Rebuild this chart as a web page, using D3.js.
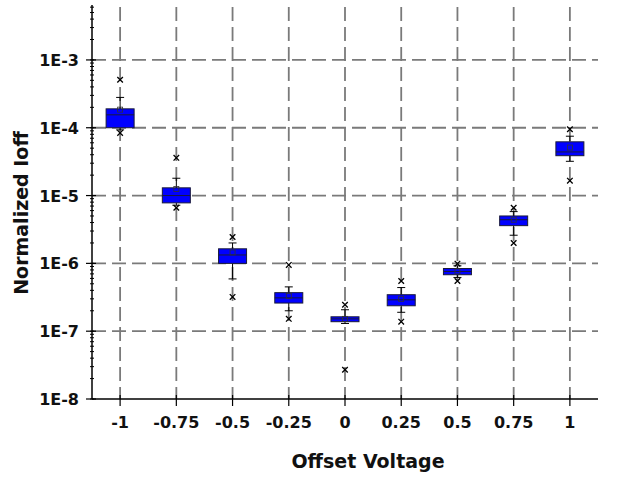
<!DOCTYPE html>
<html>
<head>
<meta charset="utf-8">
<script src="https://cdn.jsdelivr.net/npm/d3@7"></script>
<style>
body { margin: 0; background: #fff; }
text { font-family: "DejaVu Sans", Verdana, sans-serif; font-weight: bold; fill: #111; }
</style>
</head>
<body>
<svg id="chart" width="631" height="477"></svg>
<script>
// data
var offsets   = [-1, -0.75, -0.5, -0.25, 0, 0.25, 0.5, 0.75, 1];
var q1        = [1.0e-4, 7.8e-6, 1.0e-6, 2.6e-7, 1.38e-7, 2.37e-7, 6.8e-7, 3.6e-6, 3.87e-5];
var medians   = [1.55e-4, 1.0e-5, 1.33e-6, 3.1e-7, 1.52e-7, 2.9e-7, 7.6e-7, 4.4e-6, 4.4e-5];
var q3        = [1.9e-4, 1.3e-5, 1.64e-6, 3.7e-7, 1.63e-7, 3.45e-7, 8.4e-7, 5.0e-6, 6.2e-5];
var means     = [1.85e-4, 1.25e-5, 1.45e-6, 3.3e-7, 1.52e-7, 3.0e-7, 7.6e-7, 4.4e-6, 5.1e-5];
var whiskLow  = [9.3e-5, 7.2e-6, 5.9e-7, 2.0e-7, 1.3e-7, 1.9e-7, 6.2e-7, 2.6e-6, 3.2e-5];
var whiskHigh = [2.8e-4, 1.8e-5, 2.0e-6, 4.5e-7, 2.07e-7, 4.4e-7, 9.2e-7, 5.8e-6, 7.5e-5];
var minVals   = [8.4e-5, 6.6e-6, 3.2e-7, 1.52e-7, 2.7e-8, 1.38e-7, 5.5e-7, 2.0e-6, 1.66e-5];
var maxVals   = [5.1e-4, 3.6e-5, 2.45e-6, 9.5e-7, 2.45e-7, 5.5e-7, 9.9e-7, 6.6e-6, 9.5e-5];
var yTicks    = [1e-8, 1e-7, 1e-6, 1e-5, 1e-4, 1e-3];
var yTickLabels = ["1E-8", "1E-7", "1E-6", "1E-5", "1E-4", "1E-3"];

var svg = d3.select("#chart");
var mLeft = 92, mRight = 598, mTop = 5, mBottom = 399;

var x = d3.scaleLinear().domain([-1.125, 1.125]).range([mLeft, mRight]);
var y = d3.scaleLog().domain([1e-8, Math.pow(10, -2.19)]).range([mBottom, mTop]);

var gridColor = "#7a7a7a";
// horizontal dashed grid
svg.selectAll(".hgrid").data(yTicks.slice(1)).enter().append("line")
  .attr("x1", mLeft).attr("x2", mRight)
  .attr("y1", function(d){ return y(d) }).attr("y2", function(d){ return y(d) })
  .attr("stroke", gridColor).attr("stroke-width", 1.8).attr("stroke-dasharray", "14,6");
// vertical dashed grid
svg.selectAll(".vgrid").data(offsets).enter().append("line")
  .attr("x1", function(d){ return x(d) }).attr("x2", function(d){ return x(d) })
  .attr("y1", mTop + 2).attr("y2", mBottom)
  .attr("stroke", gridColor).attr("stroke-width", 1.8).attr("stroke-dasharray", "14,6");

// minor log ticks on y
var minor = y.ticks(60);
svg.selectAll(".minor").data(minor).enter().append("line")
  .attr("x1", mLeft - 2).attr("x2", mLeft + 2)
  .attr("y1", function(d){ return y(d) }).attr("y2", function(d){ return y(d) })
  .attr("stroke", "#000").attr("stroke-width", 1);
svg.selectAll(".major").data(yTicks).enter().append("line")
  .attr("x1", mLeft - 6).attr("x2", mLeft + 4)
  .attr("y1", function(d){ return y(d) }).attr("y2", function(d){ return y(d) })
  .attr("stroke", "#000").attr("stroke-width", 1.2);
svg.selectAll(".ylab").data(yTicks).enter().append("text")
  .text(function(d,i){ return yTickLabels[i] })
  .attr("x", mLeft - 13).attr("y", function(d){ return y(d) + 6 })
  .attr("text-anchor", "end").attr("font-size", 16);

// x ticks
svg.selectAll(".xtick").data(offsets).enter().append("line")
  .attr("x1", function(d){ return x(d) }).attr("x2", function(d){ return x(d) })
  .attr("y1", mBottom - 4).attr("y2", mBottom + 7)
  .attr("stroke", "#000").attr("stroke-width", 1.2);
svg.selectAll(".xlab").data(offsets).enter().append("text")
  .text(function(d){ return String(d) })
  .attr("x", function(d){ return x(d) }).attr("y", 428)
  .attr("text-anchor", "middle").attr("font-size", 16);

// axis lines
svg.append("line").attr("x1", mLeft).attr("x2", mLeft).attr("y1", mTop).attr("y2", mBottom)
  .attr("stroke", "#000").attr("stroke-width", 1.5);
svg.append("line").attr("x1", mLeft).attr("x2", mRight).attr("y1", mBottom).attr("y2", mBottom)
  .attr("stroke", "#000").attr("stroke-width", 1.5);

// boxes
var boxW = 28, capW = 8;
var g = svg.selectAll(".box").data(offsets).enter().append("g");
g.append("line")
  .attr("x1", function(d){ return x(d) }).attr("x2", function(d){ return x(d) })
  .attr("y1", function(d,i){ return y(whiskHigh[i]) }).attr("y2", function(d,i){ return y(q3[i]) })
  .attr("stroke", "#000").attr("stroke-width", 1);
g.append("line")
  .attr("x1", function(d){ return x(d) }).attr("x2", function(d){ return x(d) })
  .attr("y1", function(d,i){ return y(q1[i]) }).attr("y2", function(d,i){ return y(whiskLow[i]) })
  .attr("stroke", "#000").attr("stroke-width", 1);
g.append("line")
  .attr("x1", function(d){ return x(d) - capW/2 }).attr("x2", function(d){ return x(d) + capW/2 })
  .attr("y1", function(d,i){ return y(whiskHigh[i]) }).attr("y2", function(d,i){ return y(whiskHigh[i]) })
  .attr("stroke", "#000").attr("stroke-width", 1);
g.append("line")
  .attr("x1", function(d){ return x(d) - capW/2 }).attr("x2", function(d){ return x(d) + capW/2 })
  .attr("y1", function(d,i){ return y(whiskLow[i]) }).attr("y2", function(d,i){ return y(whiskLow[i]) })
  .attr("stroke", "#000").attr("stroke-width", 1);
g.append("rect")
  .attr("x", function(d){ return x(d) - boxW/2 }).attr("width", boxW)
  .attr("y", function(d,i){ return y(q3[i]) })
  .attr("height", function(d,i){ return y(q1[i]) - y(q3[i]) })
  .attr("fill", "#0000ff").attr("stroke", "#1a1a3a").attr("stroke-width", 1);
g.append("line")
  .attr("x1", function(d){ return x(d) - boxW/2 }).attr("x2", function(d){ return x(d) + boxW/2 })
  .attr("y1", function(d,i){ return y(medians[i]) }).attr("y2", function(d,i){ return y(medians[i]) })
  .attr("stroke", "#1a1a3a").attr("stroke-width", 1);
g.append("rect")
  .attr("x", function(d){ return x(d) - 2.5 }).attr("width", 5)
  .attr("y", function(d,i){ return y(means[i]) - 2.5 }).attr("height", 5)
  .attr("fill", "none").attr("stroke", "#333").attr("stroke-width", 0.8);

var cross = d3.symbol().type(d3.symbolX).size(22);
g.append("path").attr("d", cross)
  .attr("transform", function(d,i){ return "translate(" + x(d) + "," + y(maxVals[i]) + ")" })
  .attr("fill", "none").attr("stroke", "#000").attr("stroke-width", 1.3);
g.append("path").attr("d", cross)
  .attr("transform", function(d,i){ return "translate(" + x(d) + "," + y(minVals[i]) + ")" })
  .attr("fill", "none").attr("stroke", "#000").attr("stroke-width", 1.3);

// axis titles
svg.append("text").text("Offset Voltage").attr("x", 368).attr("y", 468)
  .attr("text-anchor", "middle").attr("font-size", 19);
svg.append("text").text("Normalized Ioff")
  .attr("transform", "translate(28,213) rotate(-90)")
  .attr("text-anchor", "middle").attr("font-size", 19);
</script>
</body>
</html>
